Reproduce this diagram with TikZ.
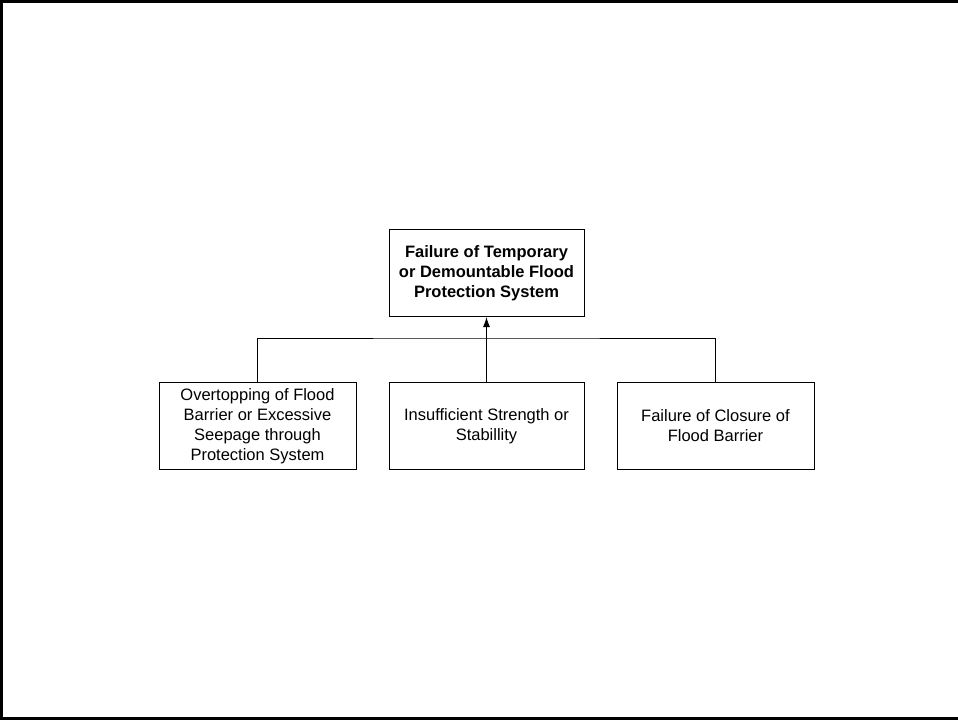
\documentclass[tikz,border=0pt]{standalone}
\usepackage{fontspec}
\setmainfont{Liberation Sans}
\usetikzlibrary{arrows.meta}
\begin{document}
\begin{tikzpicture}[x=1pt,y=-1pt,
  box/.style={draw=black,line width=1pt,fill=white,minimum width=195pt,minimum height=87pt,
    align=center,inner sep=0pt,font=\fontsize{16.5}{20}\selectfont},
  conn/.style={draw=black,line width=1pt},
  frameline/.style={draw=black,line width=3pt}]
\useasboundingbox (0,0) rectangle (958,720);
\draw[frameline] (1.5,0) -- (1.5,720);
\draw[frameline] (0,1.5) -- (958,1.5);
\draw[frameline] (0,718.5) -- (958,718.5);
\node[box,font=\fontsize{16.5}{20}\selectfont\bfseries] (top) at (486.5,273) {Failure of Temporary\\or Demountable Flood\\Protection System};
\node[box,minimum width=197pt] (b1) at (257.5,426) {Overtopping of Flood\\Barrier or Excessive\\Seepage through\\Protection System};
\node[box] (b2) at (486.5,426) {Insufficient Strength or\\Stabillity};
\node[box,minimum width=197pt] (b3) at (715.5,426) {Failure of Closure of\\Flood Barrier};
\coordinate (j) at (486.5,338);
\draw[conn] (b1.north) |- (j) -| (b3.north);
\draw[conn,-{Latex[length=10pt,width=7pt]}] (b2.north) -- (top.south);
\end{tikzpicture}
\end{document}
